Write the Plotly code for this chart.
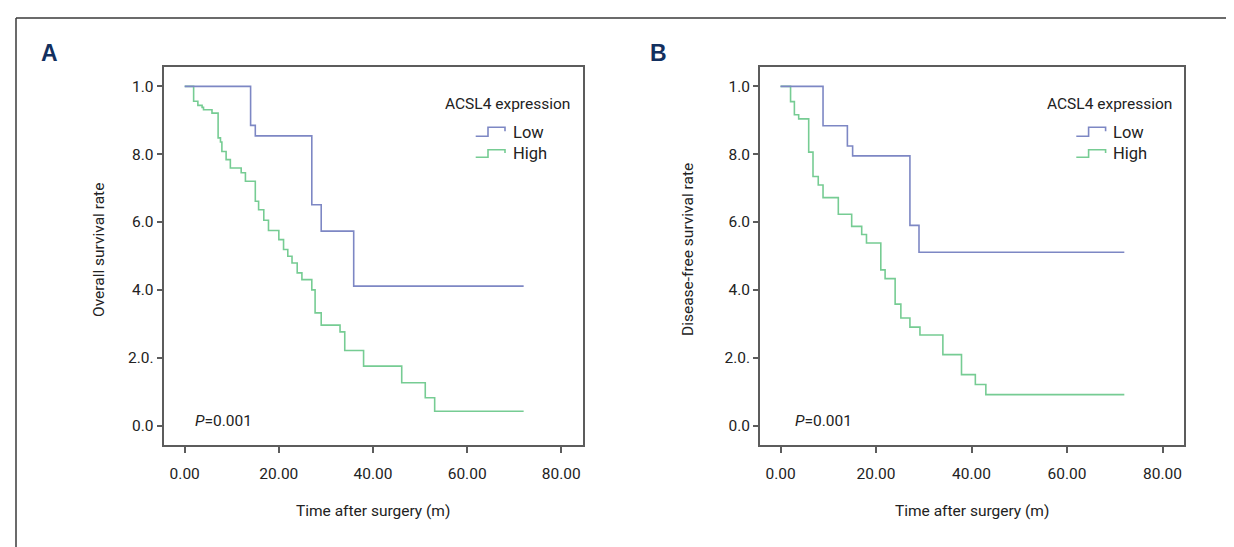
import plotly.graph_objects as go

# ---------------- data ----------------
END_TIME = 72.0

# Panel A - overall survival
a_low_t = [14.0, 15.0, 27.0, 29.0, 35.9]
a_low_s = [0.885, 0.854, 0.651, 0.573, 0.411]
a_high_t = [1.9, 2.8, 3.7, 4.0, 5.8, 7.1, 7.6, 7.9, 8.8, 9.7, 12.0, 12.9, 15.0, 15.7,
            16.8, 17.8, 20.0, 21.0, 21.9, 22.8, 23.9, 24.9, 27.0, 27.7, 29.0, 33.0,
            34.0, 38.0, 46.1, 51.1, 53.1]
a_high_s = [0.956, 0.944, 0.938, 0.931, 0.921, 0.848, 0.836, 0.808, 0.784, 0.759, 0.745,
            0.720, 0.661, 0.636, 0.605, 0.575, 0.548, 0.519, 0.499, 0.479, 0.450, 0.430,
            0.400, 0.332, 0.296, 0.276, 0.221, 0.175, 0.126, 0.082, 0.042]

# Panel B - disease-free survival
b_low_t = [8.9, 14.0, 15.1, 27.1, 29.0]
b_low_s = [0.884, 0.824, 0.795, 0.590, 0.511]
b_high_t = [2.1, 2.9, 3.8, 5.9, 6.8, 7.9, 8.9, 12.1, 14.9, 17.0, 18.0, 21.0, 21.9, 24.0,
            25.2, 27.1, 29.2, 34.0, 37.9, 40.8, 43.0]
b_high_s = [0.955, 0.916, 0.904, 0.806, 0.734, 0.709, 0.672, 0.623, 0.587, 0.563, 0.538,
            0.459, 0.433, 0.358, 0.317, 0.290, 0.267, 0.209, 0.150, 0.121, 0.091]

x_tick_vals = [0, 20, 40, 60, 80]
x_tick_text = ["0.00", "20.00", "40.00", "60.00", "80.00"]
y_tick_vals = [0.0, 0.2, 0.4, 0.6, 0.8, 1.0]
y_tick_text = ["0.0", "2.0.", "4.0", "6.0", "8.0", "1.0"]

group_names = ["Low", "High"]
legend_title = "ACSL4 expression"
p_text = "<i>P</i>=0.001"
x_title = "Time after surgery (m)"
y_titles = ["Overall survival rate", "Disease-free survival rate"]
panel_labels = ["A", "B"]

# ---------------- styling ----------------
W, H = 1234, 547
BLUE = "#7d87c4"
GREEN = "#76cc93"
AXC = "#5c5c5c"
FONT = "Roboto, Liberation Sans, Arial, sans-serif"
TXT = "#222222"
FS = 15.5


def px(x):
    return x / W


def py(y):
    return 1 - y / H


def steps(times, surv):
    return [0.0] + list(times) + [END_TIME], [1.0] + list(surv) + [surv[-1]]


fig = go.Figure()

panels = [
    dict(xa="x", ya="y", low=(a_low_t, a_low_s), high=(a_high_t, a_high_s),
         dom=(155.5, 574.5), xr=[-4.5, 84.5]),
    dict(xa="x2", ya="y2", low=(b_low_t, b_low_s), high=(b_high_t, b_high_s),
         dom=(752, 1176), xr=[-4.3, 84.5]),
]

for p in panels:
    for (t, s), col, nm in [(p["high"], GREEN, group_names[1]), (p["low"], BLUE, group_names[0])]:
        xs, ys = steps(t, s)
        fig.add_trace(go.Scatter(x=xs, y=ys, mode="lines", line=dict(shape="hv", color=col, width=1.6),
                                 name=nm, xaxis=p["xa"], yaxis=p["ya"], showlegend=False,
                                 hoverinfo="skip"))

ytop, ybot = 59.0, 436.5
axis_common = dict(showline=True, linecolor=AXC, linewidth=1.7, mirror=True, showgrid=False,
                   zeroline=False, ticks="outside", tickcolor=AXC, tickwidth=1.5,
                   tickfont=dict(family=FONT, size=FS, color=TXT), automargin=False)

layout = dict(width=W, height=H, margin=dict(l=0, r=0, t=0, b=0, autoexpand=False),
              paper_bgcolor="white", plot_bgcolor="white", showlegend=False,
              font=dict(family=FONT, color=TXT))

for i, p in enumerate(panels):
    sfx = "" if i == 0 else "2"
    layout["xaxis" + sfx] = dict(axis_common, domain=[px(p["dom"][0]), px(p["dom"][1])],
                                 range=p["xr"], tickvals=x_tick_vals, ticktext=x_tick_text,
                                 ticklen=7, ticklabelstandoff=7, anchor="y" + sfx)
    layout["yaxis" + sfx] = dict(axis_common, domain=[py(ybot), py(ytop)], range=[-0.056, 1.057],
                                 tickvals=y_tick_vals, ticktext=y_tick_text, ticklen=5,
                                 anchor="x" + sfx)

fig.update_layout(**layout)

ann = []
shapes = []

# outer frame (top and left edges only visible)
shapes.append(dict(type="line", xref="paper", yref="paper", x0=px(8), x1=1.0, y0=py(10), y1=py(10),
                   line=dict(color="#3a3a3a", width=1.5)))
shapes.append(dict(type="line", xref="paper", yref="paper", x0=px(8), x1=px(8), y0=py(10), y1=0.0,
                   line=dict(color="#3a3a3a", width=1.5)))

label_pos = [(42, 45), (650, 45)]
ytitle_x = [91, 680]
p_pos = [185, 785]
leg_title_cx = [499.5, 1101]
leg_glyph_x0 = [467.7, 1068.3]

for i, p in enumerate(panels):
    cx = (p["dom"][0] + p["dom"][1]) / 2
    ann.append(dict(text="<b>" + panel_labels[i] + "</b>", x=px(label_pos[i][0]),
                    y=py(label_pos[i][1]), xref="paper", yref="paper", showarrow=False,
                    xanchor="center", yanchor="middle",
                    font=dict(family="Liberation Sans, Arial, sans-serif", size=23, color="#13305f")))
    ann.append(dict(text=x_title, x=px(cx), y=py(503), xref="paper", yref="paper", showarrow=False,
                    xanchor="center", yanchor="middle", font=dict(size=FS)))
    ann.append(dict(text=y_titles[i], x=px(ytitle_x[i]), y=py(242), xref="paper", yref="paper",
                    showarrow=False, textangle=-90, xanchor="center", yanchor="middle",
                    font=dict(size=FS)))
    ann.append(dict(text=p_text, x=px(p_pos[i]), y=py(412.5), xref="paper", yref="paper",
                    showarrow=False, xanchor="left", yanchor="middle", font=dict(size=FS)))
    # legend
    ann.append(dict(text=legend_title, x=px(leg_title_cx[i]), y=py(96.5), xref="paper", yref="paper",
                    showarrow=False, xanchor="center", yanchor="middle", font=dict(size=FS)))
    x0 = leg_glyph_x0[i]
    for (yl, yt, ye), col, nm in [((128.3, 119.3, 123.3), BLUE, group_names[0]),
                                  ((149.3, 141.7, 145.0), GREEN, group_names[1])]:
        path = "M {a},{b} L {c},{b} L {c},{d} L {e},{d} L {e},{f}".format(
            a=px(x0), b=py(yl), c=px(x0 + 12.3), d=py(yt), e=px(x0 + 29.3), f=py(ye))
        shapes.append(dict(type="path", xref="paper", yref="paper", path=path,
                           line=dict(color=col, width=1.6)))
        ann.append(dict(text=nm, x=px(x0 + 35), y=py((yl + yt) / 2 + 0.5), xref="paper",
                        yref="paper", showarrow=False, xanchor="left", yanchor="middle",
                        font=dict(size=FS + 1)))

fig.update_layout(annotations=ann, shapes=shapes)
fig.write_html("out.html")
